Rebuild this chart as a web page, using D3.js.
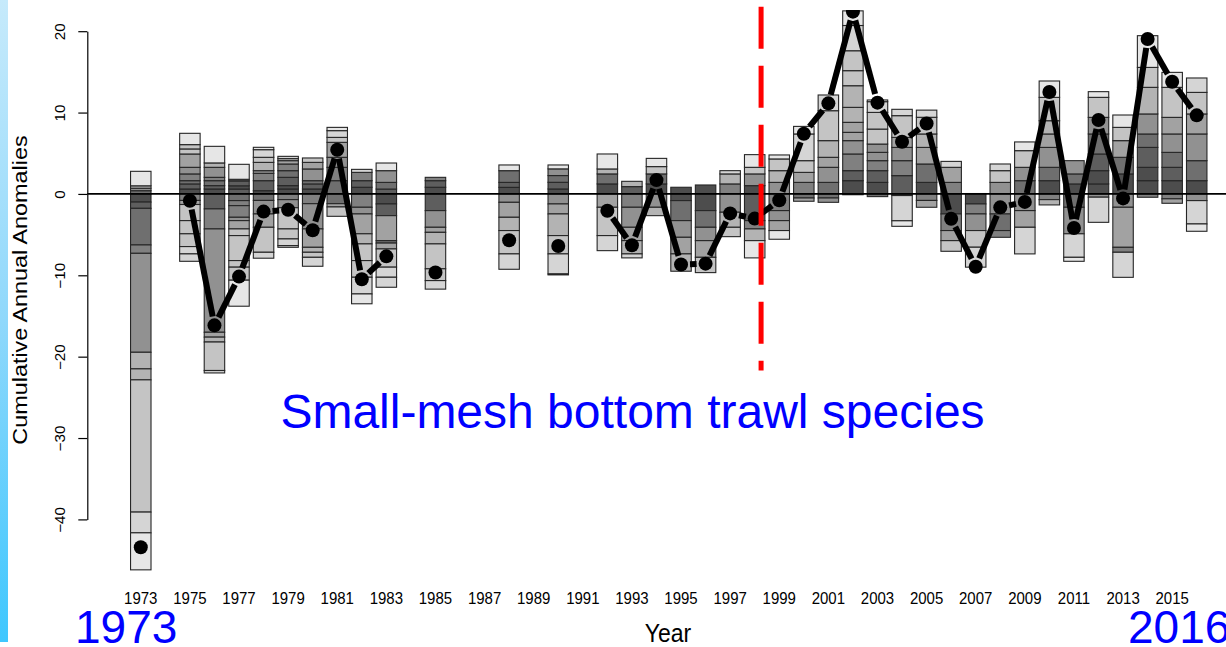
<!DOCTYPE html>
<html>
<head>
<meta charset="utf-8">
<script src="https://cdn.jsdelivr.net/npm/d3@7"></script>
<style>
  html, body { margin: 0; padding: 0; background: #fff; overflow: hidden; }
  svg { display: block; }
  text { font-family: "Liberation Sans", Arial, sans-serif; }
</style>
</head>
<body>
<svg id="chart" width="1226" height="647"></svg>
<script>
// Survey years that have data (gaps are years without a survey)
const years = [1973, 1975, 1976, 1977, 1978, 1979, 1980, 1981, 1982, 1983, 1985, 1988, 1990,
  1992, 1993, 1994, 1995, 1996, 1997, 1998, 1999, 2000, 2001, 2002, 2003, 2004, 2005,
  2006, 2007, 2008, 2009, 2010, 2011, 2012, 2013, 2014, 2015, 2016];

// Positive species anomalies per year, stacked upward from zero: [anomaly, shade group 0-9]
const upParts = [
  [[0.4,2],[0.3,4],[0.3,6],[1.78,9]],
  [[0.61,0],[0.62,1],[0.4,2],[0.83,3],[0.81,4],[1.64,5],[0.62,7],[0.53,7],[1.39,9]],
  [[0.61,0],[0.41,1],[0.61,2],[0.41,3],[1.23,4],[0.54,6],[2.04,9]],
  [[0.6,1],[0.4,0],[0.6,1],[0.2,0],[1.84,9]],
  [[0.4,0],[1.23,1],[0.9,3],[0.33,4],[1.02,6],[0.62,7],[0.94,8],[0.29,9]],
  [[0.61,0],[0.41,0],[1.02,1],[0.82,2],[0.82,3],[0.41,5],[0.25,7],[0.28,8]],
  [[0.61,0],[0.62,1],[0.4,2],[1.44,4],[0.81,5],[0.54,7]],
  [[1.63,2],[1.64,3],[1.23,4],[1.84,5],[0.61,7],[0.83,8],[0.4,9]],
  [[0.82,0],[0.81,1],[1.02,3],[0.37,8]],
  [[0.6,1],[0.82,2],[1.44,4],[0.94,9]],
  [[0.82,0],[0.81,1],[0.41,3]],
  [[0.81,0],[0.61,1],[1.44,2],[0.7,9]],
  [[0.61,0],[0.82,1],[0.83,2],[0.82,4],[0.48,9]],
  [[1.23,0],[1.23,2],[0.61,6],[1.84,9]],
  [[0.9,1],[0.65,6]],
  [[1.23,0],[1.23,2],[0.9,7],[1.01,9]],
  [[0.82,0]],
  [[1.1,0]],
  [[1.23,3],[1.23,6],[0.4,8]],
  [[1.02,0],[1.44,4],[0.81,7],[1.56,9]],
  [[1.42,4],[1.44,6],[1.44,7],[0.49,9]],
  [[1.42,3],[1.23,5],[1.44,7],[3.28,8],[0.93,9]],
  [[1.42,2],[1.85,4],[1.23,5],[2.05,6],[3.68,7],[1.93,8]],
  [[1.63,0],[1.23,1],[2.05,3],[1.64,4],[1.02,5],[1.23,5],[1.84,6],[2.66,6],[1.85,7],[2.45,7],[3.1,8],[1.8,9]],
  [[1.42,0],[1.44,1],[1.23,3],[1.02,4],[1.02,4],[1.84,7],[2.05,7],[1.32,8],[0.21,9]],
  [[2.25,1],[1.84,3],[1.63,4],[1.23,5],[2.67,7],[0.78,8]],
  [[1.42,0],[2.26,2],[2.04,5],[1.65,6],[2.05,7],[0.88,8]],
  [[1.42,3],[1.85,5],[0.73,8]],
  [[0.05,0]],
  [[1.42,4],[1.44,7],[0.82,8]],
  [[1.63,2],[1.64,4],[2.05,7],[1.07,9]],
  [[1.63,0],[1.64,2],[2.45,4],[1.65,5],[1.63,6],[2.87,7],[2.01,9]],
  [[1.23,0],[1.23,2],[1.63,4]],
  [[1.23,0],[1.63,0],[2.05,1],[2.46,2],[2.04,4],[2.46,7],[0.7,9]],
  [[2.46,0],[2.04,2],[2.05,5],[1.63,7],[1.52,9]],
  [[1.63,0],[1.64,0],[2.45,1],[1.65,2],[2.46,4],[3.27,6],[2.45,7],[3.9,9]],
  [[1.63,0],[1.64,1],[1.84,2],[2.26,4],[2.04,5],[3.69,7],[1.84,9]],
  [[1.63,0],[2.46,2],[3.28,4],[2.46,5],[2.65,7],[1.77,8]]
];

// Negative species anomalies per year, stacked downward from zero
const downParts = [
  [[-1.0,0],[-0.77,1],[-4.5,2],[-1.03,3],[-12.16,4],[-2.04,6],[-1.35,6],[-16.25,7],[-2.55,8],[-4.55,9]],
  [[-0.8,3],[-0.5,5],[-1.98,7],[-1.62,7],[-1.57,7],[-0.9,8],[-0.91,8]],
  [[-1.84,1],[-2.46,3],[-12.7,4],[-0.6,5],[-0.6,6],[-3.5,7],[-0.3,8]],
  [[-0.82,2],[-0.62,3],[-1.43,3],[-0.41,4],[-1.02,5],[-0.82,7],[-3.07,7],[-0.81,7],[-1.6,7],[-3.2,9]],
  [[-0.8,2],[-1.66,4],[-1.64,5],[-3.07,7],[-0.73,8]],
  [[-0.7,3],[-1.0,4],[-2.6,7],[-1.23,7],[-0.82,8],[-0.21,8]],
  [[-1.2,3],[-3.1,4],[-2.26,5],[-0.61,6],[-0.62,7],[-1.1,8]],
  [[-1.2,2],[-0.4,5],[-1.15,7]],
  [[-1.64,3],[-0.82,4],[-2.44,5],[-1.24,6],[-2.05,7],[-2.05,7],[-2.05,8],[-1.21,9]],
  [[-1.23,0],[-1.44,1],[-3.07,5],[-0.3,2],[-0.72,5],[-2.24,7],[-1.24,8],[-1.23,8]],
  [[-2.05,1],[-2.05,4],[-0.62,5],[-1.42,6],[-3.06,7],[-1.45,7],[-1.05,8]],
  [[-1.03,4],[-1.84,5],[-1.63,6],[-2.87,7],[-1.89,8]],
  [[-1.23,4],[-1.23,5],[-2.66,6],[-2.25,7],[-2.46,8],[-0.12,9]],
  [[-1.64,5],[-3.48,7],[-1.85,8]],
  [[-1.64,3],[-2.46,4],[-1.64,5],[-1.63,6],[-0.49,8]],
  [[-1.64,4],[-1.03,6]],
  [[-0.82,0],[-2.46,2],[-2.05,4],[-2.04,5],[-2.13,6]],
  [[-2.05,0],[-2.05,2],[-1.64,4],[-2.05,5],[-1.88,7]],
  [[-2.25,4],[-1.85,6],[-1.15,7]],
  [[-3.28,1],[-1.02,3],[-1.44,6],[-2.12,9]],
  [[-2.05,3],[-1.23,4],[-1.22,5],[-1.07,9]],
  [[-0.5,2],[-0.4,5]],
  [[-0.5,2],[-0.53,4]],
  [[-0.1,3]],
  [[-0.33,2]],
  [[-0.2,1],[-3.1,8],[-0.68,9]],
  [[-0.8,3],[-0.84,5]],
  [[-2.46,0],[-2.04,3],[-1.24,5],[-1.31,7]],
  [[-1.23,0],[-1.23,3],[-2.04,4],[-2.05,7],[-2.45,8]],
  [[-2.46,4],[-2.04,2],[-0.83,3]],
  [[-2.05,4],[-2.05,5],[-3.27,8]],
  [[-0.7,3],[-0.65,6]],
  [[-1.64,2],[-3.26,4],[-2.89,8],[-0.49,9]],
  [[-0.4,4],[-3.09,8]],
  [[-1.64,4],[-4.92,5],[-0.61,3],[-3.08,8]],
  [[-0.41,3]],
  [[-0.6,3],[-0.55,5]],
  [[-0.82,4],[-2.87,8],[-0.9,9]]
];

const yTicks = [-40, -30, -20, -10, 0, 10, 20];
const xLabels = [1973, 1975, 1977, 1979, 1981, 1983, 1985, 1987, 1989, 1991, 1993, 1995,
  1997, 1999, 2001, 2003, 2005, 2007, 2009, 2011, 2013, 2015];

// Regime-shift marker (fractional year) and its vertical extent in anomaly units
const regimeShiftYear = 1998.26;
const regimeShiftSpan = [-21.7, 23.0];

const svg = d3.select("#chart");
const W = 1226, H = 647;

// Scales
const allYears = d3.range(1973, 2017);
const x = d3.scaleBand().domain(allYears).range([128.5, 1209]).paddingInner(1 / 6).paddingOuter(1 / 12);
const xc = yr => x(yr) + x.bandwidth() / 2;
const xYear = d3.scaleLinear().domain([1973, 2016]).range([xc(1973), xc(2016)]);
const y = d3.scaleLinear().domain([-40, 20]).range([519.4, 31.2]);
const shade = d3.scaleLinear().domain([0, 9]).range(["#4d4d4d", "#e6e6e6"]);

// Slide accent strip on the left edge
const defs = svg.append("defs");
const grad = defs.append("linearGradient").attr("id", "strip").attr("x1", 0).attr("y1", 0).attr("x2", 0).attr("y2", 1);
grad.append("stop").attr("offset", 0).attr("stop-color", "#c6eafb");
grad.append("stop").attr("offset", 0.5).attr("stop-color", "#8fd8fb");
grad.append("stop").attr("offset", 1).attr("stop-color", "#3fc7fe");
svg.append("rect").attr("x", 0).attr("y", 0).attr("width", 8).attr("height", 642).attr("fill", "url(#strip)");

defs.append("clipPath").attr("id", "plotClip")
  .append("rect").attr("x", 87).attr("y", 10).attr("width", W - 87).attr("height", 570);

const plot = svg.append("g").attr("clip-path", "url(#plotClip)");

// Build stacked segments
const segs = [];
const totals = [];
years.forEach((yr, i) => {
  let acc = 0;
  upParts[i].forEach(([v, g]) => { segs.push({ yr, y0: acc, y1: acc + v, g }); acc += v; });
  let tot = acc;
  acc = 0;
  downParts[i].forEach(([v, g]) => { segs.push({ yr, y0: acc, y1: acc + v, g }); acc += v; });
  tot += acc;
  totals.push({ yr, v: tot });
});

plot.append("g").selectAll("rect").data(segs).join("rect")
  .attr("x", d => x(d.yr))
  .attr("width", x.bandwidth())
  .attr("y", d => y(Math.max(d.y0, d.y1)))
  .attr("height", d => Math.abs(y(d.y0) - y(d.y1)))
  .attr("fill", d => shade(d.g))
  .attr("stroke", "#262626")
  .attr("stroke-width", 1.1);

// Zero reference line
plot.append("line")
  .attr("x1", 87.3).attr("x2", W)
  .attr("y1", y(0)).attr("y2", y(0))
  .attr("stroke", "#000").attr("stroke-width", 1.8);

// Connecting line (only between consecutive survey years), with gaps around points
const gap = 9;
const links = [];
for (let i = 1; i < totals.length; i++) {
  if (totals[i].yr - totals[i - 1].yr === 1) links.push([totals[i - 1], totals[i]]);
}
plot.append("g").selectAll("line").data(links).join("line")
  .each(function ([a, b]) {
    const ax = xc(a.yr), ay = y(a.v), bx = xc(b.yr), by = y(b.v);
    const d = Math.hypot(bx - ax, by - ay);
    const ux = (bx - ax) / d, uy = (by - ay) / d;
    d3.select(this)
      .attr("x1", ax + ux * gap).attr("y1", ay + uy * gap)
      .attr("x2", bx - ux * gap).attr("y2", by - uy * gap);
  })
  .attr("stroke", "#000").attr("stroke-width", 6).attr("stroke-linecap", "butt");

plot.append("g").selectAll("circle").data(totals).join("circle")
  .attr("cx", d => xc(d.yr)).attr("cy", d => y(d.v)).attr("r", 7).attr("fill", "#000");

// Regime-shift marker
svg.append("line")
  .attr("x1", xYear(regimeShiftYear)).attr("x2", xYear(regimeShiftYear))
  .attr("y1", y(regimeShiftSpan[1])).attr("y2", y(regimeShiftSpan[0]))
  .attr("stroke", "#ff0000").attr("stroke-width", 5).attr("stroke-dasharray", "42 17");

// Y axis
const yAxis = svg.append("g").attr("transform", "translate(87.3,0)")
  .call(d3.axisLeft(y).tickValues(yTicks).tickSize(9).tickSizeOuter(0).tickFormat(d3.format("d")));
yAxis.select(".domain").attr("stroke", "#000").attr("stroke-width", 1.2);
yAxis.selectAll(".tick line").attr("stroke", "#000").attr("stroke-width", 1.2);
yAxis.selectAll(".tick text")
  .attr("x", null).attr("dy", null)
  .attr("transform", "translate(-22,0) rotate(-90) scale(1.05,1)")
  .attr("text-anchor", "middle")
  .attr("font-size", 14.5)
  .attr("font-family", "Liberation Sans, Arial, sans-serif")
  .attr("fill", "#000");

// X labels (every other year)
svg.append("g").selectAll("text").data(xLabels).join("text")
  .attr("transform", d => `translate(${xc(d)},604) scale(1,1.15)`)
  .attr("text-anchor", "middle")
  .attr("font-size", 15)
  .attr("fill", "#000")
  .text(d => d);

// Axis titles
svg.append("text")
  .attr("transform", "translate(26.5,290) rotate(-90) scale(1.2,1)")
  .attr("text-anchor", "middle").attr("font-size", 19.5).attr("fill", "#000")
  .text("Cumulative Annual Anomalies");

svg.append("text")
  .attr("transform", "translate(668,642) scale(1,1.1)")
  .attr("text-anchor", "middle").attr("font-size", 23).attr("fill", "#000")
  .text("Year");

// Slide annotations
svg.append("text")
  .attr("x", 632.5).attr("y", 428)
  .attr("text-anchor", "middle").attr("font-size", 48).attr("fill", "#0000ff")
  .text("Small-mesh bottom trawl species");

svg.append("text")
  .attr("x", 75).attr("y", 643)
  .attr("font-size", 46).attr("fill", "#0000ff")
  .text("1973");

svg.append("text")
  .attr("x", 1128).attr("y", 643)
  .attr("font-size", 46).attr("fill", "#0000ff")
  .text("2016");
</script>
</body>
</html>
